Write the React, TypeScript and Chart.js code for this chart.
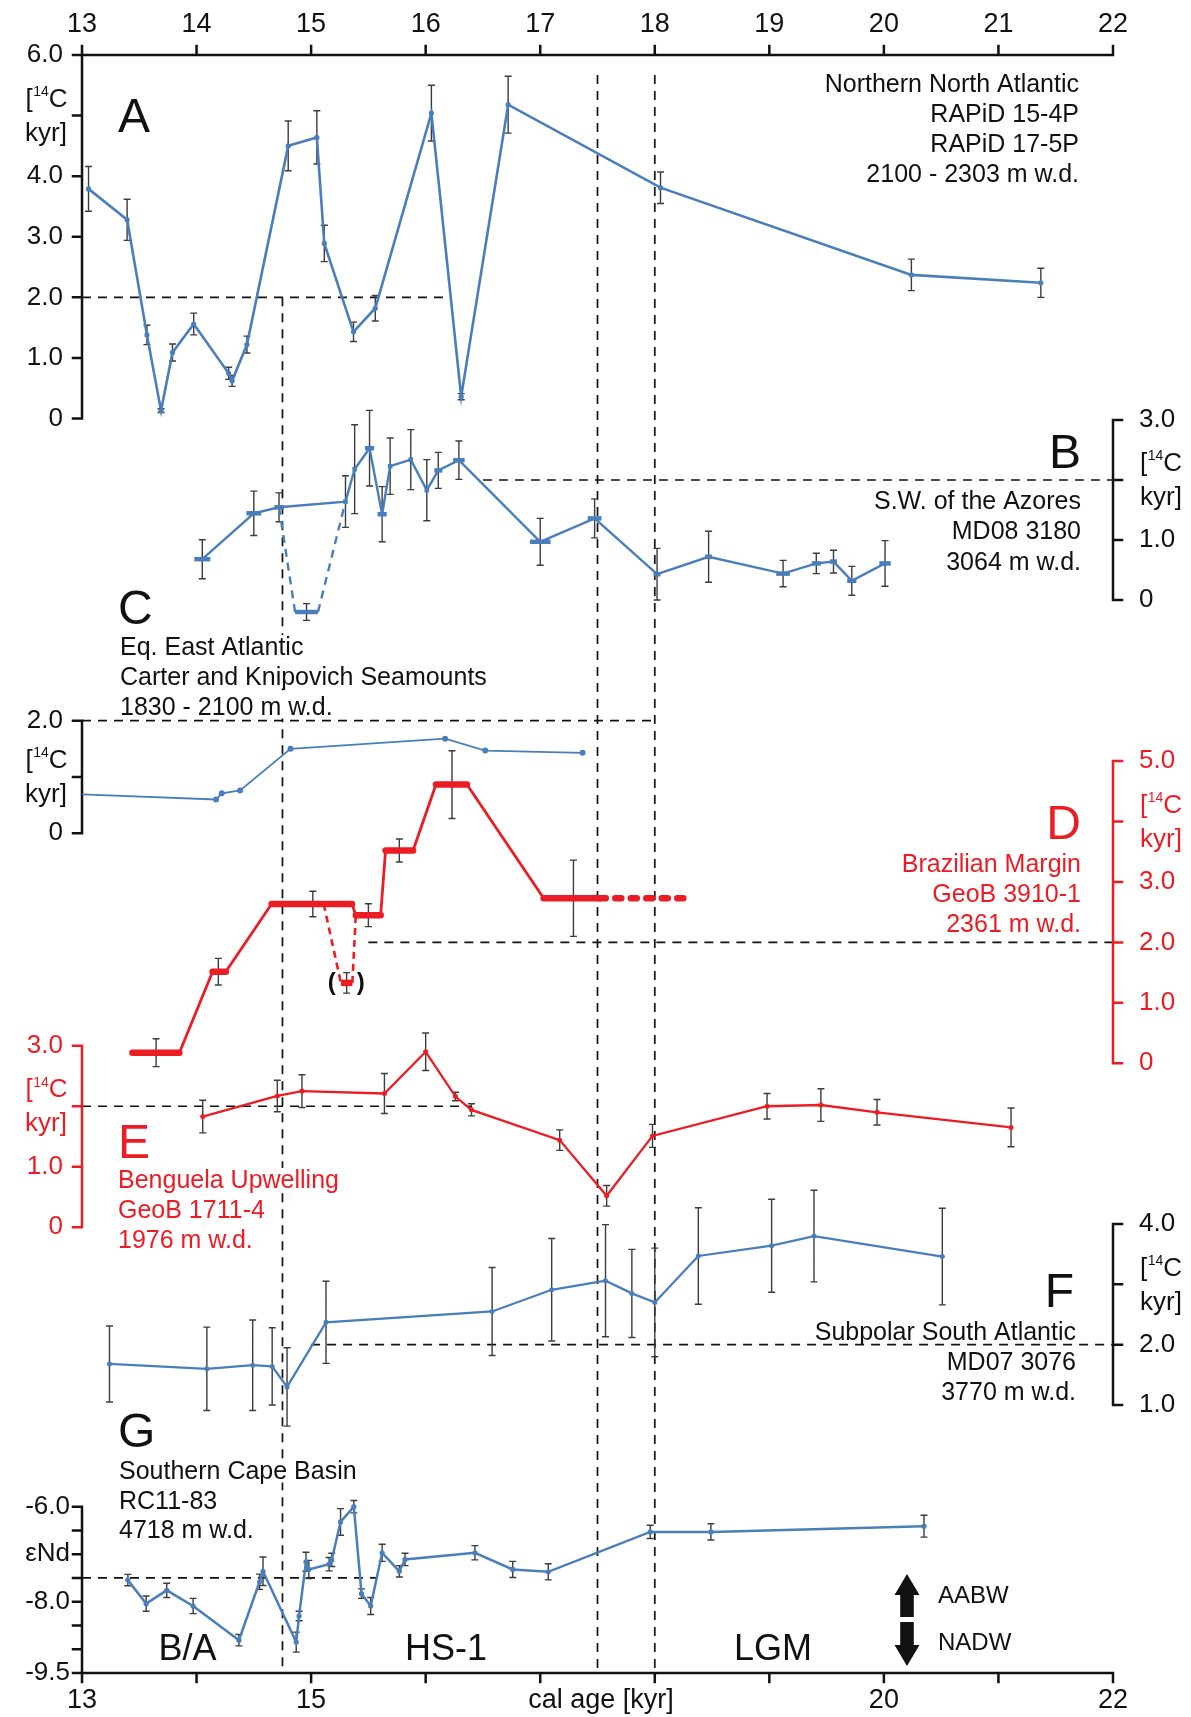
import { useEffect, useRef } from "react";
import { Chart, registerables } from "chart.js";

Chart.register(...registerables);

const CANVAS_W = 1191;
const CANVAS_H = 1717;
// plot frame shared by every panel (canvas pixels)
const PLOT = { left: 82, right: 1113, top: 55, bottom: 1673 };
const FONT = '"Liberation Sans", Arial, Helvetica, sans-serif';
const BLUE = "#4a7ebb";
const RED = "#ec1c24";
const INK = "#111111";
const ERR_INK = "#3c3c3c";
const TEXT_SIZE = 25;

// ---- calendar age axis (kyr) ----
const AGE_MIN = 13;
const AGE_MAX = 22;
const TOP_TICKS = [13, 14, 15, 16, 17, 18, 19, 20, 21, 22];
const BOTTOM_LABELS = [13, 15, 20, 22];
const X_TITLE = "cal age [kyr]";
const X_TITLE_AGE = 17.53;

// ---- A: Northern North Atlantic, B-P age [14C kyr] ----
const A_AGE = [13.057, 13.394, 13.567, 13.69, 13.79, 13.975, 14.28, 14.31, 14.44, 14.8, 15.05, 15.115, 15.37, 15.56, 16.05, 16.31, 16.72, 18.05, 20.24, 21.37];
const A_VAL = [3.79, 3.28, 1.38, 0.13, 1.09, 1.56, 0.745, 0.62, 1.22, 4.5, 4.64, 2.89, 1.43, 1.82, 5.04, 0.36, 5.18, 3.81, 2.37, 2.24];
const A_ERR = [0.37, 0.34, 0.16, 0.03, 0.14, 0.18, 0.1, 0.09, 0.14, 0.41, 0.44, 0.3, 0.16, 0.21, 0.46, 0.05, 0.47, 0.26, 0.26, 0.24];

// ---- B: S.W. of the Azores, MD08 3180 ----
const B_AGE = [14.05, 14.5, 14.72, 15.3, 15.38, 15.51, 15.62, 15.69, 15.87, 16.01, 16.11, 16.29, 17.0, 17.475, 18.02, 18.47, 19.12, 19.41, 19.56, 19.72, 20.01];
const B_VAL = [0.68, 1.445, 1.545, 1.64, 2.18, 2.53, 1.43, 2.23, 2.34, 1.83, 2.16, 2.33, 0.97, 1.36, 0.43, 0.72, 0.44, 0.61, 0.64, 0.32, 0.61];
const B_ERR = [0.325, 0.37, 0.24, 0.43, 0.74, 0.63, 0.46, 0.47, 0.5, 0.51, 0.3, 0.32, 0.39, 0.325, 0.43, 0.425, 0.22, 0.17, 0.19, 0.24, 0.38];
// half of the calendar-age span of each sample (kyr)
const B_AGE_HALF = [0.07, 0.065, 0.04, 0.02, 0.02, 0.04, 0.04, 0.02, 0.02, 0.02, 0.035, 0.05, 0.09, 0.06, 0.03, 0.03, 0.06, 0.04, 0.03, 0.04, 0.05];
// alternative (dashed) branch
const B_ALT_AGE = [14.72, 14.86, 15.06, 15.3];
const B_ALT_VAL = [1.545, -0.2, -0.2, 1.64];
const B_ALT_ERR_AGE = [14.96];
const B_ALT_ERR_VAL = [-0.2];
const B_ALT_ERR = [0.14];

// ---- C: Eq. East Atlantic ----
const C_AGE = [13.0, 14.17, 14.22, 14.38, 14.82, 16.17, 16.52, 17.37];
const C_VAL = [0.69, 0.6, 0.71, 0.76, 1.5, 1.68, 1.47, 1.43];

// ---- D: Brazilian Margin, GeoB 3910-1 (age ranges) ----
const D_FROM = [13.44, 14.14, 14.655, 15.39, 15.65, 16.09, 17.03];
const D_TO = [13.85, 14.255, 15.357, 15.607, 15.89, 16.36, 17.52];
const D_VAL = [0.175, 1.515, 2.635, 2.45, 3.52, 4.61, 2.73];
const D_ERR_AGE = [13.647, 14.19, 15.015, 15.5, 15.77, 16.23, 17.29];
const D_ERR = [0.23, 0.22, 0.21, 0.19, 0.19, 0.56, 0.63];
const D_TAIL_AGE = [17.52, 18.33];
const D_TAIL_VAL = [2.73, 2.73];
const D_ALT_AGE = [15.11, 15.26, 15.36, 15.39];
const D_ALT_VAL = [2.635, 1.33, 1.33, 2.45];
const D_ALT_ERR_AGE = [15.31];
const D_ALT_ERR_VAL = [1.33];
const D_ALT_ERR = [0.17];

// ---- E: Benguela Upwelling, GeoB 1711-4 ----
const E_AGE = [14.054, 14.705, 14.92, 15.64, 16.0, 16.26, 16.4, 17.17, 17.58, 17.98, 18.98, 19.45, 19.94, 21.11];
const E_VAL = [1.83, 2.17, 2.25, 2.21, 2.9, 2.16, 1.94, 1.44, 0.52, 1.51, 2.0, 2.02, 1.9, 1.65];
const E_ERR = [0.27, 0.26, 0.27, 0.33, 0.31, 0.07, 0.1, 0.17, 0.17, 0.19, 0.21, 0.27, 0.21, 0.32];

// ---- F: Subpolar South Atlantic, MD07 3076 ----
const F_AGE = [13.24, 14.09, 14.49, 14.66, 14.79, 15.13, 16.58, 17.1, 17.57, 17.8, 18.0, 18.38, 19.02, 19.39, 20.51];
const F_VAL = [1.68, 1.6, 1.66, 1.64, 1.3, 2.37, 2.55, 2.91, 3.06, 2.85, 2.7, 3.47, 3.64, 3.8, 3.46];
const F_ERR = [0.63, 0.69, 0.75, 0.64, 0.65, 0.68, 0.73, 0.85, 0.93, 0.73, 0.9, 0.8, 0.77, 0.76, 0.8];

// ---- G: Southern Cape Basin, RC11-83, eNd ----
const G_AGE = [13.4, 13.56, 13.74, 13.97, 14.37, 14.55, 14.58, 14.87, 14.895, 14.955, 14.98, 15.157, 15.18, 15.257, 15.373, 15.44, 15.52, 15.62, 15.77, 15.82, 16.43, 16.76, 17.07, 17.96, 18.49, 20.35];
const G_VAL = [-7.545, -8.04, -7.76, -8.09, -8.81, -7.58, -7.36, -8.85, -8.3, -7.16, -7.32, -7.21, -7.12, -6.32, -6.0, -7.83, -8.09, -6.97, -7.36, -7.11, -6.97, -7.32, -7.37, -6.53, -6.53, -6.41];
const G_ERR = [0.12, 0.16, 0.15, 0.16, 0.12, 0.16, 0.3, 0.21, 0.1, 0.2, 0.19, 0.14, 0.14, 0.28, 0.13, 0.1, 0.18, 0.18, 0.12, 0.13, 0.15, 0.17, 0.17, 0.14, 0.17, 0.23];

// ---- axis ticks per panel ----
const A_TICKS = [0, 1, 2, 3, 4, 5, 6];
const A_LABELS = [6, 4, 3, 2, 1, 0];
const B_TICKS = [0, 1, 2, 3];
const B_LABELS = [3, 1, 0];
const C_TICKS = [0, 1, 2];
const C_LABELS = [2, 0];
const D_TICKS = [0, 1, 2, 3, 4, 5];
const D_LABELS = [5, 3, 2, 1, 0];
const E_TICKS = [0, 1, 2, 3];
const E_LABELS = [3, 1, 0];
const F_TICKS = [1, 2, 3, 4];
const F_LABELS = [4, 2, 1];
const G_TICKS = [-6, -6.5, -7, -7.5, -8, -8.5, -9, -9.5];
const G_LABELS = [-6, -8, -9.5];

// where each panel's axis sits on the canvas (value -> pixel anchors)
const PANEL_LAYOUT: Record<string, { vTop: number; vBottom: number; pTop: number; pBottom: number }> = {
  yA: { vTop: 6, vBottom: 0, pTop: 55, pBottom: 418.5 },
  yB: { vTop: 3, vBottom: 0, pTop: 420, pBottom: 600 },
  yC: { vTop: 2, vBottom: 0, pTop: 720.7, pBottom: 833.3 },
  yD: { vTop: 5, vBottom: 0, pTop: 761, pBottom: 1063.3 },
  yE: { vTop: 3, vBottom: 0, pTop: 1045.7, pBottom: 1227.3 },
  yF: { vTop: 4, vBottom: 1, pTop: 1224, pBottom: 1405 },
  yG: { vTop: -6, vBottom: -9.5, pTop: 1506.7, pBottom: 1673 },
};

type AxisDecor = {
  id: string;
  side: "left" | "right";
  color: string;
  ticks: number[];
  labels: number[];
  unitAt: number;
  unitText?: string;
  gap: number;
};

const AXIS_DECOR: AxisDecor[] = [
  { id: "yA", side: "left", color: INK, ticks: A_TICKS, labels: A_LABELS, unitAt: 5, gap: 19 },
  { id: "yB", side: "right", color: INK, ticks: B_TICKS, labels: B_LABELS, unitAt: 2, gap: 26 },
  { id: "yC", side: "left", color: INK, ticks: C_TICKS, labels: C_LABELS, unitAt: 1, gap: 19 },
  { id: "yD", side: "right", color: RED, ticks: D_TICKS, labels: D_LABELS, unitAt: 4, gap: 26 },
  { id: "yE", side: "left", color: RED, ticks: E_TICKS, labels: E_LABELS, unitAt: 2, gap: 19 },
  { id: "yF", side: "right", color: INK, ticks: F_TICKS, labels: F_LABELS, unitAt: 3, gap: 26 },
  { id: "yG", side: "left", color: INK, ticks: G_TICKS, labels: G_LABELS, unitAt: -7, unitText: "εNd", gap: 12 },
];

// dashed guide lines
const V_GUIDES = [
  { age: 14.75, axis: "yA", from: 2.0 },
  { age: 17.5, axis: "yA", from: 5.67 },
  { age: 18.0, axis: "yA", from: 5.67 },
];
const H_GUIDES = [
  { axis: "yA", value: 2.0, from: 13, to: 16.2 },
  { axis: "yB", value: 2.0, from: 16.5, to: 22 },
  { axis: "yC", value: 2.0, from: 13, to: 18 },
  { axis: "yD", value: 2.0, from: 15.5, to: 22 },
  { axis: "yE", value: 2.0, from: 13, to: 16.4 },
  { axis: "yF", value: 2.0, from: 15.0, to: 22 },
  { axis: "yG", value: -7.5, from: 13, to: 15.57 },
];

const ERROR_SERIES = [
  { axis: "yA", age: A_AGE, val: A_VAL, err: A_ERR },
  { axis: "yB", age: B_AGE, val: B_VAL, err: B_ERR },
  { axis: "yB", age: B_ALT_ERR_AGE, val: B_ALT_ERR_VAL, err: B_ALT_ERR },
  { axis: "yD", age: D_ERR_AGE, val: D_VAL, err: D_ERR },
  { axis: "yD", age: D_ALT_ERR_AGE, val: D_ALT_ERR_VAL, err: D_ALT_ERR },
  { axis: "yE", age: E_AGE, val: E_VAL, err: E_ERR },
  { axis: "yF", age: F_AGE, val: F_VAL, err: F_ERR },
  { axis: "yG", age: G_AGE, val: G_VAL, err: G_ERR },
];

type Label = { t: string; x: number; y: number; size?: number; align?: CanvasTextAlign; color?: string; bg?: boolean };

const PANEL_TEXT: Label[] = [
  { t: "A", x: 118, y: 132, size: 48, align: "left" },
  { t: "Northern North Atlantic", x: 1079, y: 92, align: "right" },
  { t: "RAPiD 15-4P", x: 1079, y: 122, align: "right" },
  { t: "RAPiD 17-5P", x: 1079, y: 152, align: "right" },
  { t: "2100 - 2303 m w.d.", x: 1079, y: 182, align: "right" },

  { t: "B", x: 1081, y: 468, size: 48, align: "right" },
  { t: "S.W. of the Azores", x: 1081, y: 509, align: "right" },
  { t: "MD08 3180", x: 1081, y: 539, align: "right" },
  { t: "3064 m w.d.", x: 1081, y: 570, align: "right" },

  { t: "C", x: 118, y: 624, size: 48, align: "left" },
  { t: "Eq. East Atlantic", x: 120, y: 655, align: "left", bg: true },
  { t: "Carter and Knipovich Seamounts", x: 120, y: 685, align: "left", bg: true },
  { t: "1830 - 2100 m w.d.", x: 120, y: 715, align: "left", bg: true },

  { t: "D", x: 1081, y: 839, size: 48, align: "right", color: RED },
  { t: "Brazilian Margin", x: 1081, y: 872, align: "right", color: RED },
  { t: "GeoB 3910-1", x: 1081, y: 902, align: "right", color: RED },
  { t: "2361 m w.d.", x: 1081, y: 932, align: "right", color: RED },

  { t: "E", x: 118, y: 1158, size: 48, align: "left", color: RED },
  { t: "Benguela Upwelling", x: 118, y: 1188, align: "left", color: RED, bg: true },
  { t: "GeoB 1711-4", x: 118, y: 1218, align: "left", color: RED, bg: true },
  { t: "1976 m w.d.", x: 118, y: 1248, align: "left", color: RED, bg: true },

  { t: "F", x: 1074, y: 1307, size: 48, align: "right" },
  { t: "Subpolar South Atlantic", x: 1076, y: 1340, align: "right" },
  { t: "MD07 3076", x: 1076, y: 1370, align: "right" },
  { t: "3770 m w.d.", x: 1076, y: 1400, align: "right" },

  { t: "G", x: 118, y: 1447, size: 48, align: "left" },
  { t: "Southern Cape Basin", x: 119, y: 1479, align: "left", bg: true },
  { t: "RC11-83", x: 119, y: 1509, align: "left", bg: true },
  { t: "4718 m w.d.", x: 119, y: 1538, align: "left", bg: true },

  { t: "B/A", x: 187.5, y: 1660, size: 36, align: "center" },
  { t: "HS-1", x: 446, y: 1660, size: 36, align: "center" },
  { t: "LGM", x: 773, y: 1660, size: 36, align: "center" },
  { t: "AABW", x: 938, y: 1603, size: 24, align: "left" },
  { t: "NADW", x: 938, y: 1650, size: 24, align: "left" },
];

const fmt = (v: number) => (v === 0 ? "0" : v.toFixed(1));

function axisRange(id: string) {
  const l = PANEL_LAYOUT[id];
  const s = (l.pBottom - l.pTop) / (l.vTop - l.vBottom);
  return {
    min: l.vBottom - (PLOT.bottom - l.pBottom) / s,
    max: l.vTop + (l.pTop - PLOT.top) / s,
  };
}

const pts = (xs: number[], ys: number[]) => xs.map((x, i) => ({ x, y: ys[i] }));

function drawUnit(ctx: CanvasRenderingContext2D, edge: number, y: number, side: "left" | "right", color: string) {
  const size = 26;
  const small = 14;
  ctx.fillStyle = color;
  ctx.textBaseline = "middle";
  ctx.textAlign = "left";
  ctx.font = `${size}px ${FONT}`;
  const wBr = ctx.measureText("[").width;
  const wC = ctx.measureText("C").width;
  const wK = ctx.measureText("kyr]").width;
  ctx.font = `${small}px ${FONT}`;
  const w14 = ctx.measureText("14").width;
  const total = wBr + w14 + wC;
  const x0 = side === "left" ? edge - total : edge;
  const y0 = y - 16;
  ctx.font = `${size}px ${FONT}`;
  ctx.fillText("[", x0, y0);
  ctx.font = `${small}px ${FONT}`;
  ctx.fillText("14", x0 + wBr + 0.5, y0 - 7.5);
  ctx.font = `${size}px ${FONT}`;
  ctx.fillText("C", x0 + wBr + w14 + 0.5, y0);
  const xk = side === "left" ? edge - wK : edge;
  ctx.fillText("kyr]", xk, y + 18);
}

const decorations = {
  id: "panelDecorations",
  beforeDraw(chart: any) {
    const { ctx } = chart;
    ctx.save();
    ctx.fillStyle = "#ffffff";
    ctx.fillRect(0, 0, chart.width, chart.height);
    ctx.restore();
  },
  beforeDatasetsDraw(chart: any) {
    const { ctx, chartArea: area, scales } = chart;
    const xs = scales.x;
    ctx.save();

    // dashed guides
    ctx.strokeStyle = INK;
    ctx.lineWidth = 1.7;
    ctx.setLineDash([9, 7]);
    for (const g of V_GUIDES) {
      const x = xs.getPixelForValue(g.age);
      ctx.beginPath();
      ctx.moveTo(x, scales[g.axis].getPixelForValue(g.from));
      ctx.lineTo(x, area.bottom);
      ctx.stroke();
    }
    for (const g of H_GUIDES) {
      const y = scales[g.axis].getPixelForValue(g.value);
      ctx.beginPath();
      ctx.moveTo(xs.getPixelForValue(g.from), y);
      ctx.lineTo(xs.getPixelForValue(g.to), y);
      ctx.stroke();
    }
    ctx.setLineDash([]);

    // panel titles
    for (const l of PANEL_TEXT) {
      const size = l.size ?? TEXT_SIZE;
      ctx.font = `${size}px ${FONT}`;
      ctx.textAlign = l.align ?? "left";
      ctx.textBaseline = "alphabetic";
      if (l.bg) {
        const w = ctx.measureText(l.t).width;
        const x0 = l.align === "right" ? l.x - w : l.align === "center" ? l.x - w / 2 : l.x;
        ctx.fillStyle = "#ffffff";
        ctx.fillRect(x0 - 3, l.y - size * 0.8, w + 6, size * 0.94);
      }
      ctx.fillStyle = l.color ?? INK;
      ctx.fillText(l.t, l.x, l.y);
    }

    // top and bottom age axes
    ctx.strokeStyle = INK;
    ctx.lineWidth = 2.5;
    ctx.lineCap = "square";
    ctx.beginPath();
    ctx.moveTo(area.left, area.top);
    ctx.lineTo(area.right, area.top);
    ctx.moveTo(area.left, area.bottom);
    ctx.lineTo(area.right, area.bottom);
    for (const t of TOP_TICKS) {
      const x = xs.getPixelForValue(t);
      ctx.moveTo(x, area.top);
      ctx.lineTo(x, area.top - 9);
      ctx.moveTo(x, area.bottom);
      ctx.lineTo(x, area.bottom + 9);
    }
    ctx.stroke();
    ctx.fillStyle = INK;
    ctx.font = `27px ${FONT}`;
    ctx.textAlign = "center";
    ctx.textBaseline = "alphabetic";
    for (const t of TOP_TICKS) ctx.fillText(String(t), xs.getPixelForValue(t), 32);
    for (const t of BOTTOM_LABELS) ctx.fillText(String(t), xs.getPixelForValue(t), 1708);
    ctx.fillText(X_TITLE, xs.getPixelForValue(X_TITLE_AGE), 1708);

    // panel value axes
    for (const a of AXIS_DECOR) {
      const s = scales[a.id];
      const x0 = a.side === "left" ? area.left : area.right;
      const dir = a.side === "left" ? -1 : 1;
      ctx.strokeStyle = a.color;
      ctx.lineWidth = 2.5;
      ctx.lineCap = "square";
      ctx.beginPath();
      ctx.moveTo(x0, s.getPixelForValue(Math.max(...a.ticks)));
      ctx.lineTo(x0, s.getPixelForValue(Math.min(...a.ticks)));
      for (const t of a.ticks) {
        const y = s.getPixelForValue(t);
        ctx.moveTo(x0, y);
        ctx.lineTo(x0 + dir * 9, y);
      }
      ctx.stroke();
      ctx.fillStyle = a.color;
      ctx.font = `26px ${FONT}`;
      ctx.textBaseline = "middle";
      ctx.textAlign = a.side === "left" ? "right" : "left";
      const lx = x0 + dir * a.gap;
      for (const v of a.labels) ctx.fillText(fmt(v), lx, s.getPixelForValue(v));
      if (a.unitText) {
        ctx.fillText(a.unitText, lx, s.getPixelForValue(a.unitAt));
      } else {
        drawUnit(ctx, a.side === "left" ? x0 - 15 : x0 + 27, s.getPixelForValue(a.unitAt), a.side, a.color);
      }
    }

    // error bars
    ctx.strokeStyle = ERR_INK;
    ctx.lineWidth = 1.4;
    ctx.lineCap = "butt";
    for (const e of ERROR_SERIES) {
      const s = scales[e.axis];
      ctx.beginPath();
      e.age.forEach((age, i) => {
        const x = xs.getPixelForValue(age);
        const y1 = s.getPixelForValue(e.val[i] + e.err[i]);
        const y2 = s.getPixelForValue(e.val[i] - e.err[i]);
        ctx.moveTo(x, y1);
        ctx.lineTo(x, y2);
        ctx.moveTo(x - 3.5, y1);
        ctx.lineTo(x + 3.5, y1);
        ctx.moveTo(x - 3.5, y2);
        ctx.lineTo(x + 3.5, y2);
      });
      ctx.stroke();
    }
    ctx.restore();
  },
  afterDatasetsDraw(chart: any) {
    const { ctx, scales } = chart;
    ctx.save();
    // parentheses around the doubtful Brazilian Margin sample
    const x = scales.x.getPixelForValue(D_ALT_ERR_AGE[0]);
    const y = scales.yD.getPixelForValue(D_ALT_ERR_VAL[0]);
    ctx.fillStyle = INK;
    ctx.font = `bold 24px ${FONT}`;
    ctx.textAlign = "center";
    ctx.textBaseline = "middle";
    ctx.fillText("(", x - 15, y);
    ctx.fillText(")", x + 14, y);

    // AABW / NADW arrows
    const ax = 907;
    ctx.beginPath();
    ctx.moveTo(ax, 1574);
    ctx.lineTo(ax + 12.5, 1595);
    ctx.lineTo(ax + 6.8, 1595);
    ctx.lineTo(ax + 6.8, 1617);
    ctx.lineTo(ax - 6.8, 1617);
    ctx.lineTo(ax - 6.8, 1595);
    ctx.lineTo(ax - 12.5, 1595);
    ctx.closePath();
    ctx.moveTo(ax, 1666);
    ctx.lineTo(ax + 12.5, 1645);
    ctx.lineTo(ax + 6.8, 1645);
    ctx.lineTo(ax + 6.8, 1622);
    ctx.lineTo(ax - 6.8, 1622);
    ctx.lineTo(ax - 6.8, 1645);
    ctx.lineTo(ax - 12.5, 1645);
    ctx.closePath();
    ctx.fill();
    ctx.restore();
  },
};

function makeConfig(): any {
  const dData = D_VAL.flatMap((v, i) => [
    { x: D_FROM[i], y: v },
    { x: D_TO[i], y: v },
  ]);
  const yScales: any = {};
  for (const id of Object.keys(PANEL_LAYOUT)) {
    yScales[id] = { type: "linear", display: false, ...axisRange(id) };
  }
  const bHalfPx = (c: any) => {
    const xs = c.chart.scales.x;
    const pxPerKyr = (xs.right - xs.left) / (AGE_MAX - AGE_MIN);
    return B_AGE_HALF[c.dataIndex] * pxPerKyr;
  };
  return {
    type: "line",
    data: {
      datasets: [
        {
          label: "A",
          data: pts(A_AGE, A_VAL),
          yAxisID: "yA",
          borderColor: BLUE,
          borderWidth: 2.6,
          pointRadius: 2.6,
          pointBackgroundColor: BLUE,
          pointBorderWidth: 0,
        },
        {
          label: "B",
          data: pts(B_AGE, B_VAL),
          yAxisID: "yB",
          borderColor: BLUE,
          borderWidth: 2.4,
          pointStyle: "line",
          pointRadius: bHalfPx,
          pointBorderWidth: 4.5,
          pointBorderColor: BLUE,
        },
        {
          label: "B alt",
          data: pts(B_ALT_AGE, B_ALT_VAL),
          yAxisID: "yB",
          borderColor: BLUE,
          borderWidth: 2.4,
          pointRadius: 0,
          segment: {
            borderDash: (s: any) => (s.p0DataIndex === 1 ? [] : [8, 6]),
            borderWidth: (s: any) => (s.p0DataIndex === 1 ? 4.5 : 2.4),
          },
        },
        {
          label: "C",
          data: pts(C_AGE, C_VAL),
          yAxisID: "yC",
          borderColor: BLUE,
          borderWidth: 1.8,
          pointRadius: (c: any) => (c.dataIndex === 0 ? 0 : 3),
          pointBackgroundColor: BLUE,
          pointBorderWidth: 0,
        },
        {
          label: "D",
          data: dData,
          yAxisID: "yD",
          borderColor: RED,
          borderWidth: 2.8,
          borderCapStyle: "round",
          borderJoinStyle: "round",
          pointRadius: 0,
          segment: {
            borderWidth: (s: any) => (s.p0DataIndex % 2 === 0 ? 6.5 : 2.8),
          },
        },
        {
          label: "D tail",
          data: pts(D_TAIL_AGE, D_TAIL_VAL),
          yAxisID: "yD",
          borderColor: RED,
          borderWidth: 6.5,
          borderCapStyle: "round",
          borderDash: [6, 9.5],
          pointRadius: 0,
        },
        {
          label: "D alt",
          data: pts(D_ALT_AGE, D_ALT_VAL),
          yAxisID: "yD",
          borderColor: RED,
          borderWidth: 2.6,
          pointRadius: 0,
          segment: {
            borderDash: (s: any) => (s.p0DataIndex === 1 ? [] : [7, 5]),
            borderWidth: (s: any) => (s.p0DataIndex === 1 ? 6.5 : 2.6),
          },
        },
        {
          label: "E",
          data: pts(E_AGE, E_VAL),
          yAxisID: "yE",
          borderColor: RED,
          borderWidth: 2.3,
          pointRadius: 2.5,
          pointBackgroundColor: RED,
          pointBorderWidth: 0,
        },
        {
          label: "F",
          data: pts(F_AGE, F_VAL),
          yAxisID: "yF",
          borderColor: BLUE,
          borderWidth: 2.3,
          pointRadius: 2.5,
          pointBackgroundColor: BLUE,
          pointBorderWidth: 0,
        },
        {
          label: "G",
          data: pts(G_AGE, G_VAL),
          yAxisID: "yG",
          borderColor: BLUE,
          borderWidth: 2.5,
          pointRadius: 2.6,
          pointBackgroundColor: BLUE,
          pointBorderWidth: 0,
        },
      ],
    },
    options: {
      responsive: false,
      animation: false,
      events: [],
      layout: {
        padding: {
          left: PLOT.left,
          right: CANVAS_W - PLOT.right,
          top: PLOT.top,
          bottom: CANVAS_H - PLOT.bottom,
        },
      },
      plugins: { legend: { display: false }, tooltip: { enabled: false } },
      scales: {
        x: { type: "linear", display: false, min: AGE_MIN, max: AGE_MAX },
        ...yScales,
      },
    },
    plugins: [decorations],
  };
}

export default function App() {
  const canvasRef = useRef<HTMLCanvasElement>(null);
  useEffect(() => {
    const canvas = canvasRef.current;
    if (!canvas) return;
    const chart = new Chart(canvas, makeConfig());
    return () => chart.destroy();
  }, []);
  return (
    <div style={{ position: "absolute", left: 0, top: 0, width: CANVAS_W, height: CANVAS_H, background: "#ffffff" }}>
      <canvas
        ref={canvasRef}
        width={CANVAS_W}
        height={CANVAS_H}
        style={{ display: "block", width: CANVAS_W, height: CANVAS_H }}
      />
    </div>
  );
}
